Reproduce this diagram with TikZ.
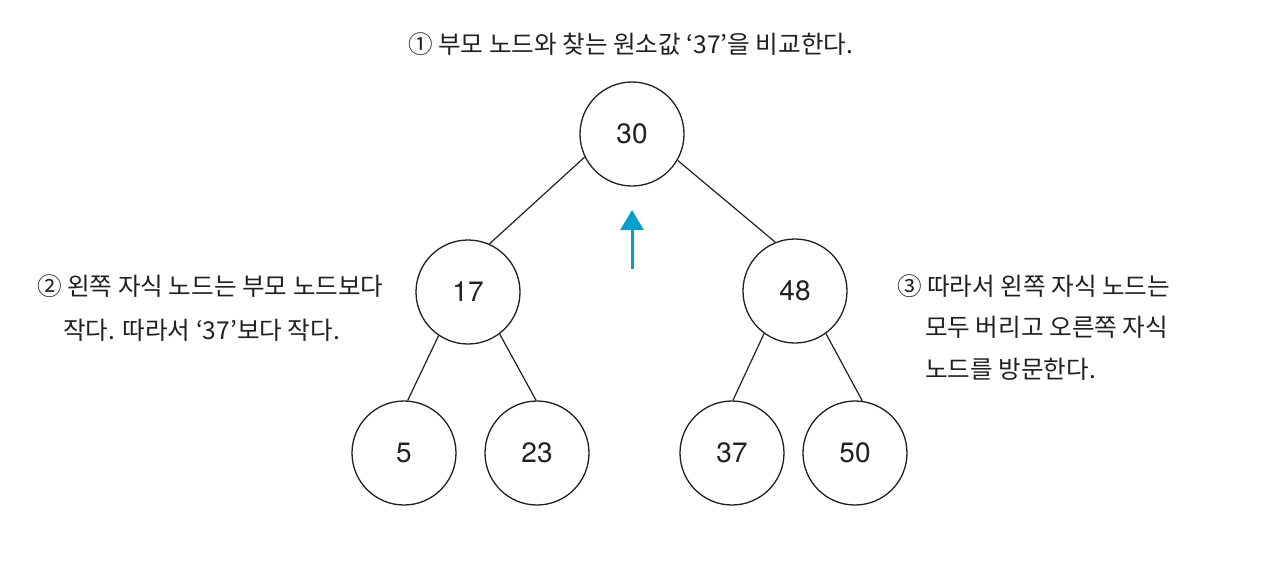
\documentclass[tikz,border=0pt]{standalone}
\usepackage{fontspec}
\setmainfont{Noto Sans CJK KR}
\newfontfamily\numfont{TeX Gyre Heros}
\usetikzlibrary{arrows.meta}
\definecolor{arrowblue}{RGB}{8,158,202}
\definecolor{ink}{RGB}{35,31,32}
\tikzset{
  treenode/.style={circle, draw=ink, line width=1.3pt, minimum size=104pt, inner sep=0pt,
    font=\numfont\fontsize{28}{28}\selectfont, text=ink},
  edge/.style={draw=ink, line width=1.2pt},
  caption/.style={anchor=base west, inner sep=0pt, text=ink, font=\fontsize{24.6}{24.6}\selectfont},
  pointer/.style={draw=arrowblue, line width=3pt, -{Triangle[width=23pt,length=20pt]}}
}
\begin{document}
\begin{tikzpicture}[x=1pt,y=-1pt]
\useasboundingbox (0,0) rectangle (1280,574);
\node[treenode] (n30) at (632,134) {30};
\node[treenode] (n17) at (468,292) {17};
\node[treenode] (n48) at (795,291) {48};
\node[treenode] (n5)  at (404,453) {5};
\node[treenode] (n23) at (537,453) {23};
\node[treenode] (n37) at (732,453) {37};
\node[treenode] (n50) at (855,453) {50};

\draw[edge] (n30.206) -- (n17.66);
\draw[edge] (n30.330) -- (n48.112);
\draw[edge] (n17.236) -- (n5.86);
\draw[edge] (n17.307) -- (n23.91);
\draw[edge] (n48.234) -- (n37.89);
\draw[edge] (n48.306) -- (n50.82);

\coordinate (arrowtail) at (632,269);
\coordinate (arrowtip) at (632,210);
\draw[pointer] (arrowtail) -- (arrowtip);

\node[caption] (t1) at (408,53) {① 부모 노드와 찾는 원소값 ‘37’을 비교한다.};
\node[caption] (t2a) at (37,295) {② 왼쪽 자식 노드는 부모 노드보다};
\node[caption] (t2b) at (63,339) {작다. 따라서 ‘37’보다 작다.};
\node[caption] (t3a) at (897,295) {③ 따라서 왼쪽 자식 노드는};
\node[caption] (t3b) at (925,336) {모두 버리고 오른쪽 자식};
\node[caption] (t3c) at (925,378) {노드를 방문한다.};
\end{tikzpicture}
\end{document}
